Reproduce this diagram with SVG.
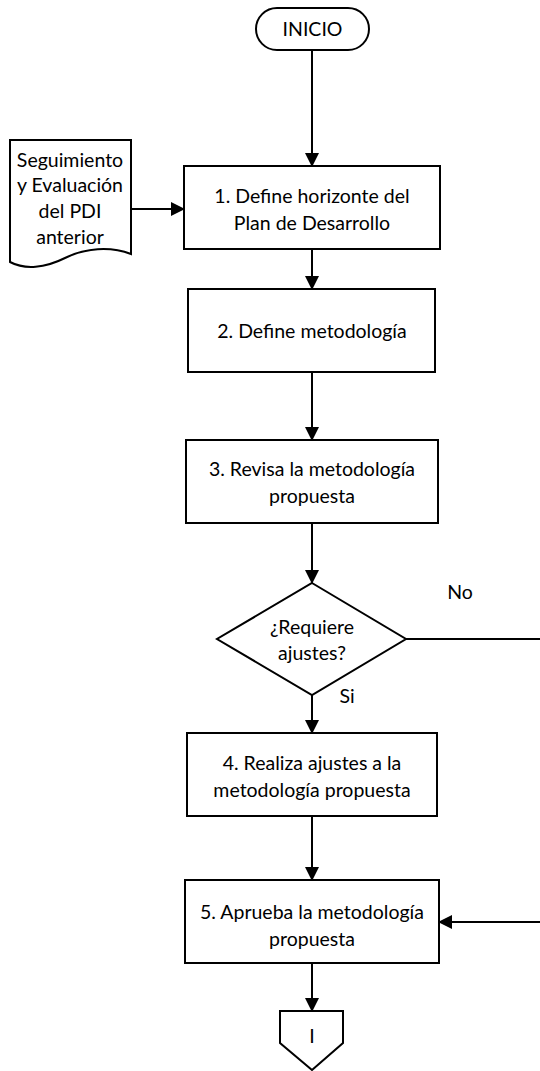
<svg xmlns="http://www.w3.org/2000/svg" width="540" height="1071" viewBox="0 0 540 1071">
<style>
  .shape { fill: #ffffff; stroke: #000000; stroke-width: 2; }
  .conn { fill: none; stroke: #000000; stroke-width: 2; }
  text { font-family: Lato, "Liberation Sans", sans-serif; font-size: 19.5px; fill: #000000; text-anchor: middle; }
</style>
<defs>
  <marker id="arrow" markerUnits="userSpaceOnUse" markerWidth="14" markerHeight="14" viewBox="0 0 14 14" refX="13" refY="7" orient="auto">
    <path d="M0,0 L14,7 L0,14 Z" fill="#000000"/>
  </marker>
</defs>
<rect width="540" height="1071" fill="#ffffff"/>
<g id="connectors">
  <line class="conn" x1="312" y1="50" x2="312" y2="166" marker-end="url(#arrow)"/>
  <line class="conn" x1="131" y1="209" x2="184" y2="209" marker-end="url(#arrow)"/>
  <line class="conn" x1="312" y1="249" x2="312" y2="289" marker-end="url(#arrow)"/>
  <line class="conn" x1="312" y1="372" x2="312" y2="440" marker-end="url(#arrow)"/>
  <line class="conn" x1="312" y1="523" x2="312" y2="583" marker-end="url(#arrow)"/>
  <line class="conn" x1="312" y1="695" x2="312" y2="733" marker-end="url(#arrow)"/>
  <line class="conn" x1="312" y1="816" x2="312" y2="880" marker-end="url(#arrow)"/>
  <line class="conn" x1="312" y1="963" x2="312" y2="1011" marker-end="url(#arrow)"/>
  <line class="conn" x1="406" y1="639" x2="540" y2="639"/>
  <line class="conn" x1="540" y1="922" x2="439" y2="922" marker-end="url(#arrow)"/>
  <text x="460" y="599">No</text>
  <text x="347" y="703">Si</text>
</g>
<g id="inicio">
  <rect class="shape" x="256" y="8" width="113" height="42" rx="21" ry="21"/>
  <text x="312.5" y="36">INICIO</text>
</g>
<g id="documento">
  <path class="shape" d="M10,140 H131 V254 C110,246 85,248 65,258 C45,268 25,270 10,262 Z"/>
  <text x="70" y="167">Seguimiento</text>
  <text x="70" y="192">y Evaluación</text>
  <text x="70" y="218">del PDI</text>
  <text x="70" y="244">anterior</text>
</g>
<g id="paso1">
  <rect class="shape" x="184" y="166" width="256" height="83"/>
  <text x="312" y="203">1. Define horizonte del</text>
  <text x="312" y="230">Plan de Desarrollo</text>
</g>
<g id="paso2">
  <rect class="shape" x="188" y="289" width="247" height="83"/>
  <text x="312" y="338">2. Define metodología</text>
</g>
<g id="paso3">
  <rect class="shape" x="186" y="440" width="252" height="83"/>
  <text x="312" y="476">3. Revisa la metodología</text>
  <text x="312" y="503">propuesta</text>
</g>
<g id="decision">
  <polygon class="shape" points="312,583 406,639 312,695 217,639"/>
  <text x="312" y="634">¿Requiere</text>
  <text x="312" y="660">ajustes?</text>
</g>
<g id="paso4">
  <rect class="shape" x="187" y="733" width="250" height="83"/>
  <text x="312" y="770">4. Realiza ajustes a la</text>
  <text x="312" y="797">metodología propuesta</text>
</g>
<g id="paso5">
  <rect class="shape" x="185" y="880" width="254" height="83"/>
  <text x="312" y="919">5. Aprueba la metodología</text>
  <text x="312" y="946">propuesta</text>
</g>
<g id="conector">
  <polygon class="shape" points="280,1011 343,1011 343,1043 312,1070 280,1043"/>
  <text x="312" y="1043">I</text>
</g>
</svg>
